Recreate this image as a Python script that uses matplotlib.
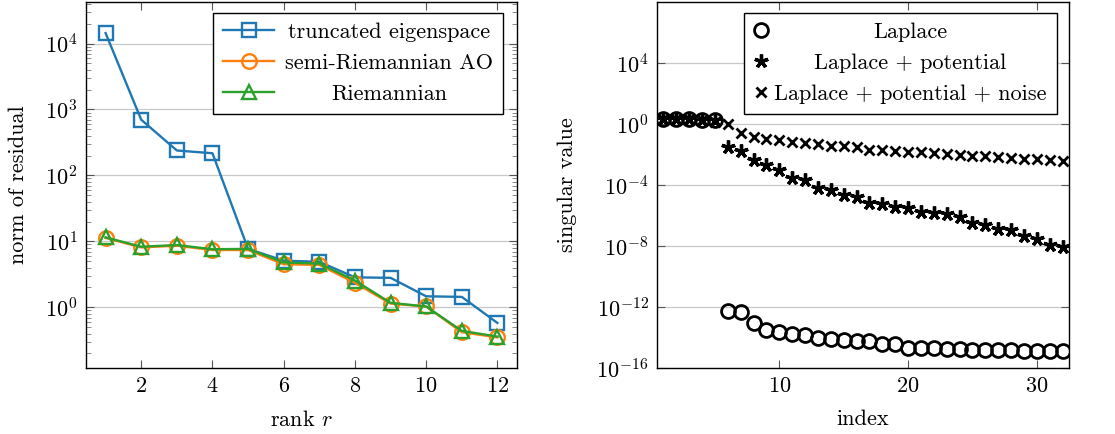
import numpy as np
import matplotlib
matplotlib.use("Agg")
import matplotlib.pyplot as plt
from matplotlib.ticker import LogLocator, NullLocator, NullFormatter

plt.rcParams['font.family'] = 'serif'
plt.rcParams['font.serif'] = ['cmr10', 'DejaVu Serif']
plt.rcParams['mathtext.fontset'] = 'cm'
plt.rcParams['axes.formatter.use_mathtext'] = True
plt.rcParams['axes.unicode_minus'] = False
plt.rcParams['font.size'] = 16

# left panel: residual norm vs rank
rank = [1, 2, 3, 4, 5, 6, 7, 8, 9, 10, 11, 12]
trunc_eig = [14400, 700, 239, 217, 7.7, 5.1, 4.9, 2.85, 2.8, 1.47, 1.44, 0.58]
semi_riem = [11.3, 8.1, 8.6, 7.4, 7.4, 4.5, 4.4, 2.35, 1.14, 1.03, 0.42, 0.35]
riem = [11.5, 8.3, 8.8, 7.6, 7.7, 4.8, 4.6, 2.55, 1.17, 1.03, 0.44, 0.36]
left_labels = ['truncated eigenspace', 'semi-Riemannian AO', 'Riemannian']

# right panel: singular values (log10)
index = np.arange(1, 33)
log_laplace = [0.33, 0.32, 0.31, 0.29, 0.25, -12.26, -12.33, -13.05, -13.53, -13.64,
               -13.79, -13.86, -14.03, -14.12, -14.14, -14.2, -14.2, -14.41, -14.41, -14.7,
               -14.7, -14.7, -14.73, -14.77, -14.8, -14.8, -14.84, -14.84, -14.88, -14.9,
               -14.9, -14.9]
log_potential = [0.33, 0.32, 0.31, 0.29, 0.25, -1.53, -1.75, -2.36, -2.69, -3.02,
                 -3.57, -3.67, -4.22, -4.33, -4.66, -4.81, -5.18, -5.25, -5.47, -5.53,
                 -5.75, -5.86, -5.9, -6.08, -6.52, -6.6, -6.89, -6.95, -7.33, -7.54,
                 -7.93, -8.04]
log_noise = [0.33, 0.32, 0.31, 0.29, 0.12, 0.0, -0.61, -0.88, -0.98, -1.05,
             -1.2, -1.25, -1.31, -1.42, -1.47, -1.53, -1.69, -1.69, -1.75, -1.82,
             -1.85, -1.9, -1.97, -2.0, -2.08, -2.08, -2.15, -2.23, -2.3, -2.3,
             -2.36, -2.4]
right_labels = ['Laplace', 'Laplace + potential', 'Laplace + potential + noise']

fig = plt.figure(figsize=(11.15, 4.34), dpi=100)
ax1 = fig.add_axes([86 / 1115, 1 - 368 / 434, 431 / 1115, 366 / 434])
ax2 = fig.add_axes([657 / 1115, 1 - 368 / 434, 412 / 1115, 366 / 434])

ms = 9.5
ax1.plot(rank, trunc_eig, color='#1f77b4', lw=1.7, marker='s', ms=ms, mfc='none', mew=1.7,
         label=left_labels[0])
ax1.plot(rank, semi_riem, color='#ff7f0e', lw=1.7, marker='o', ms=ms + 1, mfc='none', mew=1.7,
         label=left_labels[1])
ax1.plot(rank, riem, color='#2ca02c', lw=1.7, marker='^', ms=ms, mfc='none', mew=1.7,
         label=left_labels[2])
ax1.set_yscale('log')
ax1.set_xlim(0.45, 12.55)
ax1.set_ylim(10 ** -0.92, 10 ** 4.63)
ax1.set_xticks([2, 4, 6, 8, 10, 12])
ax1.yaxis.set_major_locator(LogLocator(base=10, numticks=20))
ax1.yaxis.set_minor_locator(LogLocator(base=10, subs=np.arange(2, 10), numticks=20))
ax1.yaxis.set_minor_formatter(NullFormatter())
ax1.set_xlabel('rank $r$', labelpad=10)
ax1.set_ylabel('norm of residual', labelpad=12)

ax2.plot(index, 10.0 ** np.array(log_laplace), ls='none', marker='o', ms=10, mfc='none',
         mec='black', mew=2, label=right_labels[0])
ax2.plot(index, 10.0 ** np.array(log_potential), ls='none', marker=(5, 2, 0), ms=10,
         mec='black', mew=2.4, label=right_labels[1])
ax2.plot(index, 10.0 ** np.array(log_noise), ls='none', marker='x', ms=6.5, mec='black', mew=2,
         label=right_labels[2])
ax2.set_yscale('log')
ax2.set_xlim(0.5, 32.5)
ax2.set_ylim(1e-16, 1e8)
ax2.set_xticks([10, 20, 30])
ax2.set_yticks([1e-16, 1e-12, 1e-8, 1e-4, 1e0, 1e4])
ax2.yaxis.set_minor_locator(NullLocator())
ax2.set_xlabel('index', labelpad=10)
ax2.set_ylabel('singular value', labelpad=14)

for ax in (ax1, ax2):
    ax.grid(True, axis='y', which='major', color='#c8c8c8', lw=0.9)
    ax.set_axisbelow(True)
    ax.tick_params(which='major', direction='in', length=6, width=0.8, color='#555555',
                   top=True, right=True, labelsize=16, pad=6)
    ax.tick_params(which='minor', direction='in', length=3.5, width=0.6, color='#777777',
                   top=True, right=True)
    for s in ax.spines.values():
        s.set_linewidth(1.0)

leg1 = ax1.legend(loc='upper right', bbox_to_anchor=(0.968, 0.971), borderaxespad=0,
                  fancybox=False, framealpha=1, edgecolor='black', fontsize=16,
                  handlelength=2.3, handletextpad=0.5, labelspacing=0.5, borderpad=0.45)
leg1.get_frame().set_linewidth(1.0)
leg2 = ax2.legend(loc='upper right', bbox_to_anchor=(0.970, 0.971), borderaxespad=0,
                  fancybox=False, framealpha=1, edgecolor='black', fontsize=16,
                  handlelength=0.6, handletextpad=0.3, labelspacing=0.5, borderpad=0.45)
leg2.get_frame().set_linewidth(1.0)

# centre legend text like pgfplots
fig.canvas.draw()
renderer = fig.canvas.get_renderer()
for leg in (leg1, leg2):
    widths = [t.get_window_extent(renderer).width for t in leg.get_texts()]
    wmax = max(widths)
    for t, w in zip(leg.get_texts(), widths):
        t.set_position(((wmax - w) / 2, 0))

fig.savefig('out.png', dpi=100)
